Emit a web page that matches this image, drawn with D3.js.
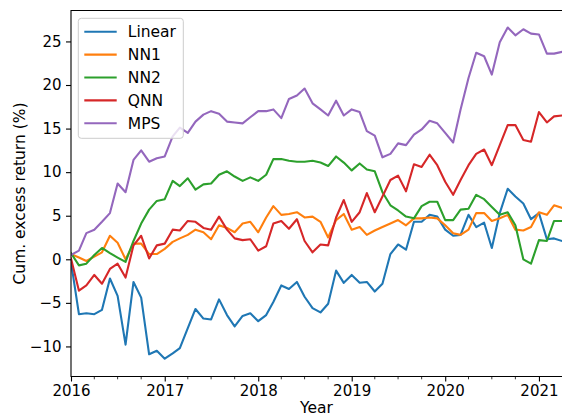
<!DOCTYPE html>
<html>
<head>
<meta charset="utf-8">
<script src="https://cdn.jsdelivr.net/npm/d3@7"></script>
<style>
  body { margin: 0; background: #fff; }
  #chart { width: 562px; height: 416px; }
  text { font-family: "DejaVu Sans", sans-serif; fill: #000; }
</style>
</head>
<body>
<div id="chart"></div>
<script>

// monthly points, Jan 2016 .. Apr 2021
var months = d3.timeMonth.range(new Date(2016, 0, 1), new Date(2021, 4, 1));

var seriesNames = ["Linear", "NN1", "NN2", "QNN", "MPS"];
var seriesColors = ["#1f77b4", "#ff7f0e", "#2ca02c", "#d62728", "#9467bd"];

var linear = [-0.3, -6.3, -6.2, -6.3, -5.8, -2.2, -4.2, -9.8, -2.6, -4.4,
  -10.9, -10.5, -11.4, -10.8, -10.2, -7.9, -5.7, -6.8, -6.9, -4.6,
  -6.4, -7.7, -6.5, -6.2, -7.1, -6.4, -4.9, -3.0, -3.4, -2.6,
  -4.3, -5.6, -6.1, -5.1, -1.3, -2.7, -1.8, -2.7, -2.6, -3.7,
  -2.8, 0.6, 1.7, 1.1, 4.3, 4.3, 5.1, 4.9, 3.4, 2.7,
  2.8, 5.1, 3.7, 4.2, 1.3, 5.3, 8.1, 7.2, 6.4, 4.6,
  5.3, 2.3, 2.4, 2.1];

var nn1 = [0.6, 0.2, -0.2, 0.3, 0.8, 2.7, 1.9, 0.0, 1.8, 1.8,
  0.6, 0.6, 1.2, 2.0, 2.4, 2.8, 3.4, 3.1, 2.3, 3.9,
  3.6, 3.1, 4.1, 4.3, 3.1, 4.8, 6.1, 5.1, 5.2, 5.4,
  4.8, 4.9, 4.3, 2.5, 4.5, 5.2, 3.4, 3.7, 2.8, 3.3,
  3.7, 4.1, 4.5, 3.9, 4.7, 4.7, 4.8, 4.7, 3.9, 3.0,
  2.8, 3.4, 5.3, 5.3, 4.4, 4.7, 5.1, 3.4, 3.3, 3.7,
  5.4, 5.1, 6.2, 5.9];

var nn2 = [0.7, -0.7, -0.5, 0.5, 1.3, 0.7, 0.2, -0.3, 2.1, 4.1,
  5.7, 6.7, 6.9, 9.0, 8.4, 9.3, 8.0, 8.6, 8.7, 9.7,
  10.1, 9.5, 9.0, 9.4, 9.0, 9.7, 11.5, 11.5, 11.3, 11.2,
  11.2, 11.3, 11.1, 10.7, 11.8, 11.1, 10.2, 11.0, 10.3, 10.1,
  7.7, 6.2, 5.6, 4.9, 4.7, 6.1, 6.6, 6.6, 4.5, 4.5,
  5.7, 5.8, 7.4, 6.9, 6.0, 5.1, 5.4, 3.9, 0.0, -0.5,
  2.2, 2.1, 4.4, 4.4];

var qnn = [0.1, -3.6, -3.0, -1.8, -2.8, -1.1, -0.5, -2.1, 1.6, 2.7,
  0.1, 1.6, 1.8, 3.4, 3.3, 4.4, 4.3, 3.6, 3.4, 4.9,
  3.4, 2.4, 2.2, 2.3, 1.0, 1.5, 4.1, 4.4, 3.5, 4.6,
  2.1, 0.8, 1.7, 1.6, 4.8, 6.8, 4.3, 5.4, 7.6, 5.4,
  7.2, 9.1, 9.6, 7.8, 10.9, 10.6, 12.0, 10.8, 8.9, 7.4,
  9.1, 10.8, 12.1, 12.6, 10.8, 13.1, 15.4, 15.4, 13.7, 13.5,
  16.9, 15.7, 16.4, 16.5];

var mps = [0.5, 1.0, 3.0, 3.4, 4.3, 5.3, 8.7, 7.7, 11.4, 12.5,
  11.2, 11.6, 11.8, 14.1, 15.1, 14.5, 15.8, 16.6, 17.0, 16.7,
  15.8, 15.7, 15.6, 16.3, 17.0, 17.0, 17.2, 16.2, 18.4, 18.8,
  19.6, 17.9, 17.2, 16.5, 18.2, 16.5, 17.2, 16.9, 14.7, 14.2,
  11.7, 12.1, 13.3, 13.1, 14.3, 14.9, 15.9, 15.6, 14.5, 13.4,
  17.2, 20.8, 23.7, 23.3, 21.2, 24.9, 26.6, 25.7, 26.4, 25.9,
  25.8, 23.6, 23.6, 23.8];

var yTicks = [-10, -5, 0, 5, 10, 15, 20, 25];
var xTickYears = [2016, 2017, 2018, 2019, 2020, 2021];

var allSeries = [linear, nn1, nn2, qnn, mps];

var chartWidth = 562,
  chartHeight = 416;

var plotLeft = 71, plotRight = 562, plotTop = 10.5, plotBottom = 376.5;
var fontSize = "15px";

var svg = d3.select("#chart").append("svg")
  .attr("width", chartWidth)
  .attr("height", chartHeight);

var x = d3.scaleTime()
  .domain([months[0], months[months.length - 1]])
  .range([plotLeft, plotRight]);

var y = d3.scaleLinear()
  .domain([-13.45, 28.55])
  .range([plotBottom, plotTop]);

var fmtMinus = function(v) {
  return v < 0 ? "\u2212" + Math.abs(v) : "" + v;
}

// lines first, clipped to the axes box
svg.append("clipPath").attr("id", "clip")
  .append("rect")
  .attr("x", plotLeft).attr("y", plotTop)
  .attr("width", plotRight - plotLeft).attr("height", plotBottom - plotTop);

var line = d3.line()
  .x(function(d, i) { return x(months[i]); })
  .y(function(d) { return y(d); });

svg.append("g")
  .attr("clip-path", "url(#clip)")
  .selectAll("path")
  .data(allSeries)
  .enter()
  .append("path")
  .attr("d", line)
  .attr("fill", "none")
  .attr("stroke", function(d, i) { return seriesColors[i]; })
  .attr("stroke-width", 2.1)
  .attr("stroke-linejoin", "round")
  .attr("stroke-linecap", "square");

// x axis
var xMajor = xTickYears.map(function(yr) { return new Date(yr, 0, 1); });
var xMinor = d3.timeMonth.every(3).range(months[0], months[months.length - 1])
  .filter(function(d) { return d.getMonth() != 0; });

var xAxis = d3.axisBottom(x)
  .tickValues(xMajor)
  .tickFormat(d3.timeFormat("%Y"))
  .tickSize(5)
  .tickPadding(4);

var gx = svg.append("g")
  .attr("transform", "translate(0," + plotBottom + ")")
  .call(xAxis);
gx.select(".domain").remove();
gx.selectAll("text").attr("font-size", fontSize).attr("font-family", "DejaVu Sans");
gx.selectAll("line").attr("stroke-width", 1.1);

svg.append("g")
  .selectAll("line")
  .data(xMinor)
  .enter()
  .append("line")
  .attr("x1", function(d) { return x(d); })
  .attr("x2", function(d) { return x(d); })
  .attr("y1", plotBottom)
  .attr("y2", plotBottom + 2.8)
  .attr("stroke", "#000")
  .attr("stroke-width", 0.8);

// y axis
var yAxis = d3.axisLeft(y)
  .tickValues(yTicks)
  .tickFormat(fmtMinus)
  .tickSize(5)
  .tickPadding(4.5);

var gy = svg.append("g")
  .attr("transform", "translate(" + plotLeft + ",0)")
  .call(yAxis);
gy.select(".domain").remove();
gy.selectAll("text").attr("font-size", fontSize).attr("font-family", "DejaVu Sans");
gy.selectAll("line").attr("stroke-width", 1.1);

// spines (right one falls off the picture)
svg.append("path")
  .attr("d", "M" + (plotRight + 1) + "," + plotTop + "H" + plotLeft + "V" + plotBottom + "H" + (plotRight + 1))
  .attr("fill", "none")
  .attr("stroke", "#000")
  .attr("stroke-width", 1.1);

// axis titles
svg.append("text")
  .attr("x", (plotLeft + plotRight) / 2)
  .attr("y", 412.5)
  .attr("text-anchor", "middle")
  .attr("font-size", "15.5px")
  .text("Year");

svg.append("text")
  .attr("transform", "translate(25," + ((plotTop + plotBottom) / 2) + ") rotate(-90)")
  .attr("text-anchor", "middle")
  .attr("font-size", "15.5px")
  .text("Cum. excess return (%)");

// legend
var legend = svg.append("g").attr("transform", "translate(78.3,18.3)");

legend.append("rect")
  .attr("x", 0).attr("y", 0)
  .attr("width", 105).attr("height", 120)
  .attr("rx", 3)
  .attr("fill", "#fff").attr("fill-opacity", 0.8)
  .attr("stroke", "#cccccc");

var rowH = 22.9;
var rows = legend.selectAll("g.item")
  .data(seriesNames)
  .enter()
  .append("g")
  .attr("class", "item")
  .attr("transform", function(d, i) { return "translate(0," + (13.4 + i * rowH) + ")"; });

rows.append("line")
  .attr("x1", 6).attr("x2", 38.4)
  .attr("y1", 0).attr("y2", 0)
  .attr("stroke", function(d, i) { return seriesColors[i]; })
  .attr("stroke-width", 2.1);

rows.append("text")
  .attr("x", 49.5)
  .attr("y", 0)
  .attr("dy", "0.36em")
  .attr("font-size", "15.5px")
  .text(function(d) { return d; });

</script>
</body>
</html>
